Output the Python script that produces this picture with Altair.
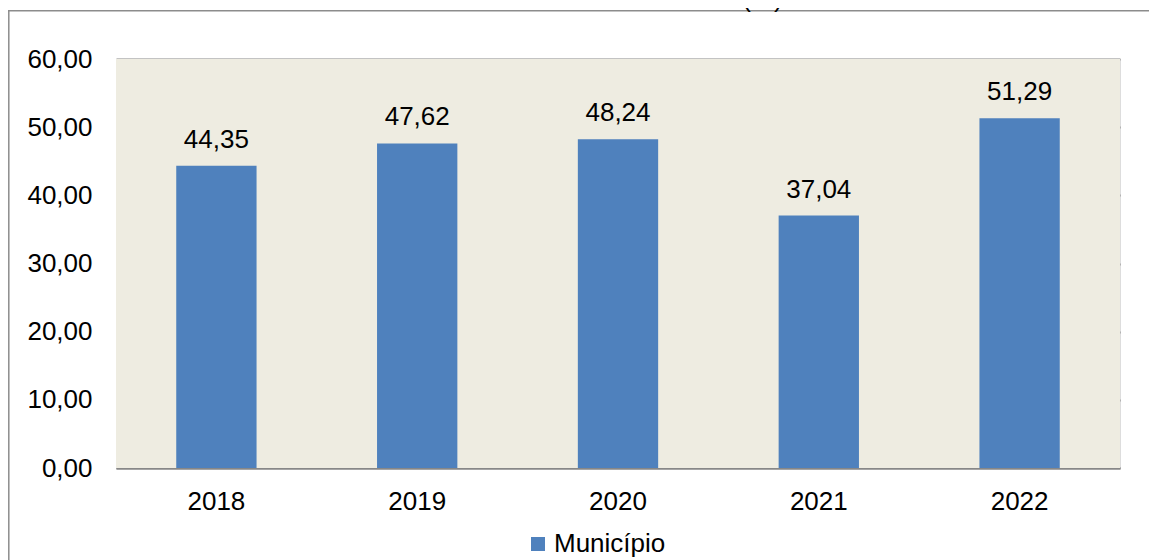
import altair as alt
import pandas as pd

# ---- data ----
anos = ["2018", "2019", "2020", "2021", "2022"]
taxas = [44.35, 47.62, 48.24, 37.04, 51.29]
serie = "Município"
y_ticks = [0, 10, 20, 30, 40, 50, 60]
titulo_bold = "Gráfico 19"
titulo_resto = " – Taxa de atendimento em Creche (%): 2018 – 2022"

df = pd.DataFrame({"ano": anos, "taxa": taxas, "serie": [serie] * len(anos)})
df["rotulo"] = [f"{v:.2f}".replace(".", ",") for v in taxas]

FONT = "Liberation Sans"
FS = 26
BLUE = "#4F81BD"
GRID = "#878787"
BG = "#EEECE1"

x_enc = alt.X(
    "ano:N",
    sort=anos,
    scale=alt.Scale(paddingInner=0.6, paddingOuter=0.3),
    axis=alt.Axis(
        title=None, labelAngle=0, labelFontSize=FS, labelFont=FONT,
        labelColor="#000000", ticks=False, domainColor=GRID, domainWidth=2,
        labelPadding=20,
    ),
)
y_enc = alt.Y(
    "taxa:Q",
    scale=alt.Scale(domain=[0, 60], nice=False),
    axis=alt.Axis(
        title=None, values=y_ticks,
        labelExpr="replace(format(datum.value, '.2f'), '.', ',')",
        labelFontSize=FS, labelFont=FONT, labelColor="#000000",
        ticks=False, domain=False, gridColor=GRID, gridWidth=2,
        labelPadding=24,
    ),
)

base = alt.Chart(df)

one = pd.DataFrame({"k": [0]})

# plot-area background
bg = alt.Chart(one).mark_rect(color=BG).encode(
    x=alt.value(0), x2=alt.value("width"),
    y=alt.value(0), y2=alt.value("height"),
)

bars = base.mark_bar().encode(
    x=x_enc,
    y=y_enc,
    color=alt.Color(
        "serie:N",
        scale=alt.Scale(domain=[serie], range=[BLUE]),
        legend=alt.Legend(
            title=None, orient="none", legendX=409, legendY=472,
            symbolType="square", symbolSize=196, symbolStrokeWidth=0,
            symbolOpacity=1, labelFontSize=FS, labelFont=FONT,
            labelColor="#000000", labelOffset=3, padding=0,
        ),
    ),
)

labels = base.mark_text(
    dy=-18, baseline="alphabetic", fontSize=FS, font=FONT, color="#000000"
).encode(x=x_enc, y=y_enc, text="rotulo:N")

# outer frame (left and top edges visible; the rest lies outside the picture)
frame_left = alt.Chart(one).mark_rule(color="#8C8C8C", strokeWidth=1.5).encode(
    x=alt.value(-107.2), y=alt.value(-48.5), y2=alt.value(600),
)
frame_top = alt.Chart(one).mark_rule(color="#8C8C8C", strokeWidth=1.5).encode(
    x=alt.value(-108), x2=alt.value(1100), y=alt.value(-48.2),
)

t_bold = alt.Chart(pd.DataFrame({"t": [titulo_bold]})).mark_text(
    align="right", baseline="alphabetic", fontSize=FS, font=FONT,
    fontWeight="bold", color="#000000",
).encode(x=alt.value(222), y=alt.value(-52), text="t:N")
t_rest = alt.Chart(pd.DataFrame({"t": [titulo_resto]})).mark_text(
    align="left", baseline="alphabetic", fontSize=FS, font=FONT,
    color="#000000",
).encode(x=alt.value(222), y=alt.value(-52), text="t:N")

chart = alt.layer(bg, frame_left, frame_top, bars, labels, t_bold, t_rest).properties(
    width=1004,
    height=409,
    autosize=alt.AutoSizeParams(type="none"),
    padding={"left": 108, "top": 51, "right": 29, "bottom": 92},
).configure_view(strokeWidth=0, stroke="transparent").configure(background="white")

chart.save("out.html", embed_options={"renderer": "svg", "actions": False})
